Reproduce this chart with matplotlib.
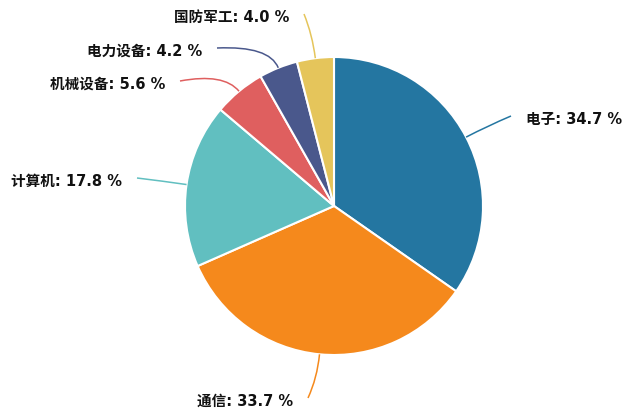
import matplotlib
matplotlib.use('Agg')
import matplotlib.pyplot as plt
import numpy as np
from matplotlib.path import Path
from matplotlib.patches import PathPatch

plt.rcParams['font.family'] = ['DejaVu Sans', 'Noto Sans CJK SC']

sectors = ['电子', '通信', '计算机', '机械设备', '电力设备', '国防军工']
shares = [34.7, 33.7, 17.8, 5.6, 4.2, 4.0]
colors = ['#2476a1', '#f5891c', '#61bfc0', '#df5f5f', '#4a588c', '#e5c55b']

# label line end points in pixels (ECharts avoided overlaps, so placed by hand)
label_ends = [(511, 116), (308, 398), (137, 178), (180, 81), (217, 48), (304, 14)]

W, H = 630, 416
cx, cy, R = 334, 206, 149

fig = plt.figure(figsize=(W / 100, H / 100), dpi=100)
ax = fig.add_axes([0, 0, 1, 1])


def px(p):
    return ((p[0] - cx) / R, (cy - p[1]) / R)


wedges, _ = ax.pie(shares, colors=colors, startangle=90, counterclock=False,
                   radius=1, wedgeprops=dict(edgecolor='white', linewidth=1.5))

for w, name, val, col, end in zip(wedges, sectors, shares, colors, label_ends):
    mid = np.deg2rad((w.theta1 + w.theta2) / 2)
    p0 = (np.cos(mid), np.sin(mid))
    p1 = (1.16 * np.cos(mid), 1.16 * np.sin(mid))
    p2 = px(end)
    path = Path([p0, p1, p2], [Path.MOVETO, Path.CURVE3, Path.CURVE3])
    ax.add_patch(PathPatch(path, fill=False, edgecolor=col, lw=1.1))
    right = p2[0] > p0[0]
    tx = end[0] + (15 if right else -15)
    ax.text(*px((tx, end[1] + 3)), f'{name}: {val:.1f} %',
            ha='left' if right else 'right', va='center',
            fontsize=10.5, fontweight='bold', color='#111111')

ax.set_aspect('equal')
ax.set_xlim(-cx / R, (W - cx) / R)
ax.set_ylim(-(H - cy) / R, cy / R)
ax.axis('off')

fig.savefig('out.png', dpi=100)
